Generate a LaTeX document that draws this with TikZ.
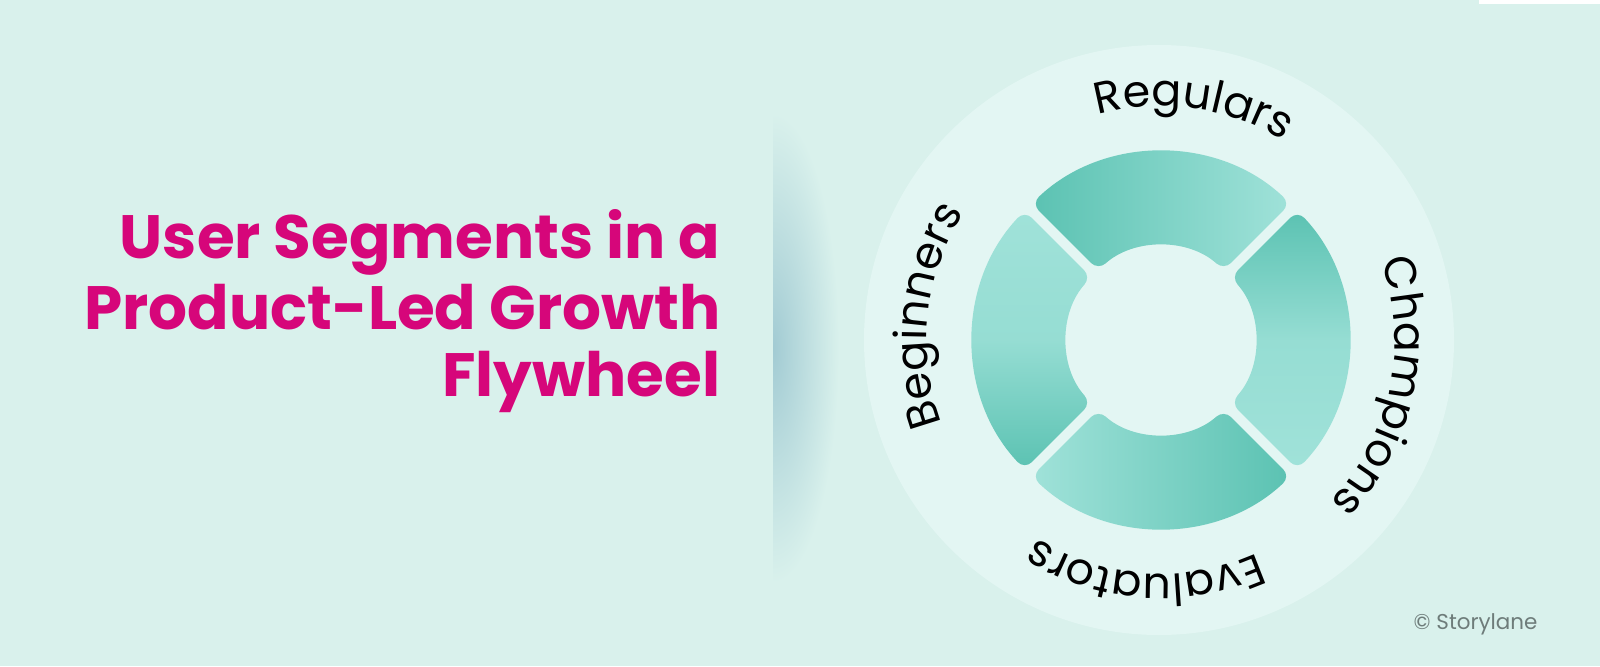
\documentclass[tikz,border=0pt]{standalone}
\usepackage{fontspec}
\usepackage{tikz}
\usetikzlibrary{decorations.text}

\newfontfamily\poppins{Poppins}
\definecolor{bgmint}{HTML}{D9F1EC}
\definecolor{discmint}{HTML}{E3F6F3}
\definecolor{tealdark}{HTML}{5BC2B2}
\definecolor{teallight}{HTML}{A0E2D9}
\definecolor{titlepink}{RGB}{214,6,122}
\definecolor{shadowblue}{HTML}{A2CBD3}
\definecolor{notegrey}{HTML}{6E7C7A}

\newcommand{\labelfont}{\poppins\fontsize{12.6}{15}\selectfont}
\newcommand{\titlefont}{\poppins\bfseries\fontsize{17.4}{21}\selectfont}
% one piece of the wheel, centred on angle #1
\newcommand{\ringseg}[1]{([shift={(#1-41.95:94)}]wheel) arc[start angle=#1-41.95, end angle=#1+41.95, radius=94]
  -- ([shift={(#1+43.47:188)}]wheel) arc[start angle=#1+43.47, end angle=#1-43.47, radius=188] -- cycle}

\begin{document}
\begin{tikzpicture}[x=0.01cm, y=0.01cm,
  titleline/.style={anchor=base east, inner sep=0, text=titlepink, font=\titlefont},
  segment/.style={rounded corners=0.1cm},
  seglabel/.style={decorate, decoration={text along path, text align=center, text={|\labelfont|#1}}}]
\useasboundingbox (0,0) rectangle (1600,666);
\fill[bgmint] (0,0) rectangle (1600,666);
\fill[white] (1479,662) rectangle (1600,666);

% title
\node (title1) [titleline] at (721,408) {User Segments in a};
\node (title2) [titleline] at (721,337) {Product-Led Growth};
\node (title3) [titleline] at (721,270) {Flywheel};

% divider shadow
\begin{scope}
\clip (773,0) rectangle (860,666);
\shade[inner color=shadowblue, outer color=bgmint] (773,318) ellipse [x radius=66, y radius=235];
\end{scope}

% wheel
\coordinate (disc) at (1159,326);
\coordinate (wheel) at (1161,326);
\fill[discmint] (disc) circle [radius=295];
\shade[segment, left color=tealdark, right color=teallight] \ringseg{90};
\shade[segment, top color=tealdark, bottom color=teallight, middle color=teallight!85!tealdark] \ringseg{0};
\shade[segment, left color=teallight, right color=tealdark] \ringseg{270};
\shade[segment, top color=teallight, bottom color=tealdark, middle color=teallight!85!tealdark] \ringseg{180};

% labels round the wheel
\path[seglabel={Regulars}] (wheel) ++(122:234) arc[start angle=122, end angle=42, radius=234];
\path[seglabel={Champions}] (wheel) ++(28:234) arc[start angle=28, end angle=-52, radius=234];
\path[seglabel={Evaluators}] (wheel) ++(-54:234) arc[start angle=-54, end angle=-134, radius=234];
\path[seglabel={Beginners}] (wheel) ++(214:234) arc[start angle=214, end angle=134, radius=234];

\node (credit) [anchor=base west, inner sep=0, text=notegrey, font=\poppins\fontsize{6.1}{7}\selectfont] at (1413,37) {© Storylane};
\end{tikzpicture}
\end{document}
